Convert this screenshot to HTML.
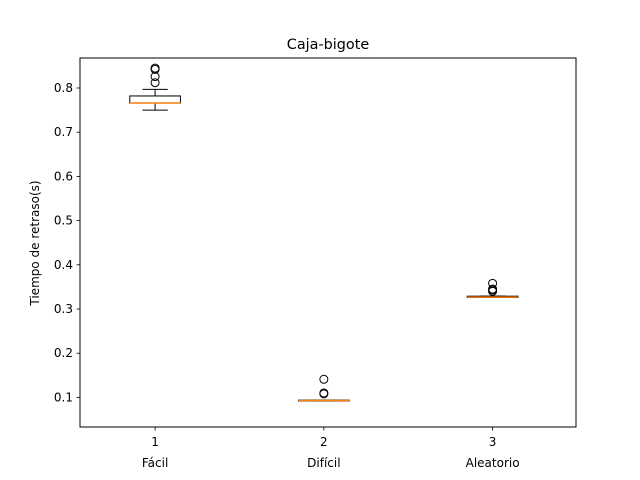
<!DOCTYPE html>
<html><head><meta charset="utf-8"><style>body{margin:0;background:#fff}svg{display:block;font-family:"DejaVu Sans","Liberation Sans",sans-serif}</style></head>
<body>
<svg id="c" width="640" height="480" xmlns="http://www.w3.org/2000/svg">
<rect width="640" height="480" fill="#fff"/>
<text x="328" y="49" font-size="14.4" text-anchor="middle">Caja-bigote</text>
<text transform="translate(39,243) rotate(-90)" font-size="12" text-anchor="middle">Tiempo de retraso(s)</text>
<g id="plot"></g>
<rect x="80" y="58" width="496" height="369" fill="none" stroke="#000" stroke-width="1"/>
</svg>
<script>
const categories = ["Fácil", "Difícil", "Aleatorio"];
const positions = [1, 2, 3];
const medians = [0.766, 0.093, 0.327];
const q1s = [0.766, 0.092, 0.326];
const q3s = [0.782, 0.094, 0.329];
const whiskLo = [0.750, 0.092, 0.326];
const whiskHi = [0.797, 0.094, 0.329];
const fliers = [[0.812, 0.826, 0.842, 0.845], [0.108, 0.110, 0.141], [0.340, 0.343, 0.345, 0.358]];
const yTicks = [0.1, 0.2, 0.3, 0.4, 0.5, 0.6, 0.7, 0.8];

const NS = "http://www.w3.org/2000/svg";
const g = document.getElementById('plot');
const xs = v => 80 + (v - 0.555) * 168.75;
const ys = v => 88 + (0.8 - v) * 442;
function mk(tag, attrs, parent) {
  const e = document.createElementNS(NS, tag);
  for (const k in attrs) e.setAttribute(k, attrs[k]);
  (parent || g).appendChild(e);
  return e;
}
yTicks.forEach(t => {
  const y = ys(t);
  const l = mk('line', {x1: 76.5, x2: 80, y1: y, y2: y, stroke: '#000', 'stroke-width': 0.8});
  
  
  const tx = mk('text', {x: 73, y: y + 4, 'font-size': 12, 'text-anchor': 'end'});
  tx.textContent = t.toFixed(1);
  
  
});
positions.forEach((p, i) => {
  const x = xs(p), hw = 0.15 * 168.75, cw = 0.075 * 168.75;
  const l = mk('line', {x1: x, x2: x, y1: 427, y2: 430.5, stroke: '#000', 'stroke-width': 0.8});
  
  
  const t1 = mk('text', {x: x, y: 446, 'font-size': 12, 'text-anchor': 'middle'});
  t1.textContent = p;
  
  
  const t2 = mk('text', {x: x, y: 467, 'font-size': 12, 'text-anchor': 'middle'});
  t2.textContent = categories[i];
  
  
  const bg = mk('g', {});
  
  
  mk('line', {x1: x, x2: x, y1: ys(q1s[i]), y2: ys(whiskLo[i]), stroke: '#000'}, bg);
  mk('line', {x1: x, x2: x, y1: ys(q3s[i]), y2: ys(whiskHi[i]), stroke: '#000'}, bg);
  mk('line', {x1: x - cw, x2: x + cw, y1: ys(whiskLo[i]), y2: ys(whiskLo[i]), stroke: '#000'}, bg);
  mk('line', {x1: x - cw, x2: x + cw, y1: ys(whiskHi[i]), y2: ys(whiskHi[i]), stroke: '#000'}, bg);
  mk('rect', {x: x - hw, y: ys(q3s[i]), width: 2 * hw, height: Math.max(ys(q1s[i]) - ys(q3s[i]), 0.5), fill: 'none', stroke: '#000'}, bg);
  mk('line', {x1: x - hw, x2: x + hw, y1: ys(medians[i]), y2: ys(medians[i]), stroke: '#ff7f0e', 'stroke-width': 1.5}, bg);
  fliers[i].forEach(f => {
    const c = mk('circle', {cx: x, cy: ys(f), r: 4, fill: 'none', stroke: '#000'}, bg);
    
    
  });
});
</script>
</body></html>
